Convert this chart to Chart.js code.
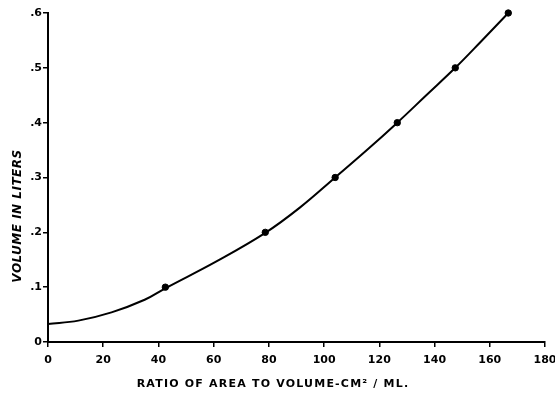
<!DOCTYPE html>
<html>
<head>
<meta charset="utf-8">
<script src="https://cdn.jsdelivr.net/npm/chart.js@4"></script>
<style>
  html, body { margin: 0; padding: 0; background: #fff; }
  #wrap { width: 555px; height: 396px; }
</style>
</head>
<body>
<div id="wrap"><canvas id="chart" width="555" height="396"></canvas></div>
<script>
// measured points
const pointX = [42.5, 78.7, 104, 126.5, 147.5, 166.7];
const pointY = [0.1, 0.2, 0.3, 0.4, 0.5, 0.6];

// fitted curve as drawn in the figure
const curveX = [0, 11, 23, 35, 42.5, 61, 78.7, 91.2, 104, 115.5, 126.5, 137, 147.5, 157, 166.7];
const curveY = [0.033, 0.039, 0.054, 0.077, 0.098, 0.147, 0.199, 0.245, 0.3, 0.35, 0.4, 0.45, 0.5, 0.549, 0.6];

const yTickLabels = ['0', '.1', '.2', '.3', '.4', '.5', '.6'];
const xTitle = 'RATIO OF AREA TO VOLUME-CM\u00B2 / ML.';
const yTitle = 'VOLUME IN LITERS';

const tickFont = { family: 'DejaVu Sans', weight: 'bold', size: 11 };

// titles drawn by hand, they sit off-centre in the original
const titlesPlugin = {
    id: 'titles',
    afterDraw(chart) {
        const c = chart.ctx;
        c.save();
        c.fillStyle = '#000';
        c.font = 'bold 11px "DejaVu Sans"';
        c.letterSpacing = '1.2px';
        c.textAlign = 'center';
        c.textBaseline = 'middle';
        c.fillText(xTitle, 273, 384);
        c.letterSpacing = '0.5px';
        c.translate(18, 216);
        c.rotate(-Math.PI / 2);
        c.font = 'italic bold 12px "DejaVu Sans"';
        c.fillText(yTitle, 0, 0);
        c.restore();
    }
};

new Chart(document.getElementById('chart').getContext('2d'), {
    type: 'scatter',
    data: {
        datasets: [
            {
                type: 'line',
                data: curveX.map((x, i) => ({ x: x, y: curveY[i] })),
                borderColor: '#000',
                borderWidth: 2,
                pointRadius: 0,
                tension: 0.4,
                fill: false,
                clip: false
            },
            {
                data: pointX.map((x, i) => ({ x: x, y: pointY[i] })),
                backgroundColor: '#000',
                borderColor: '#000',
                pointRadius: 3.2,
                clip: false
            }
        ]
    },
    options: {
        responsive: false,
        animation: false,
        layout: { padding: { top: 13, right: 0, left: 0, bottom: 0 } },
        plugins: { legend: { display: false }, tooltip: { enabled: false } },
        scales: {
            x: {
                type: 'linear',
                min: 0, max: 180,
                afterFit(s) { s.height = 54; s.paddingRight = 10; },
                grid: { drawOnChartArea: false, drawTicks: true, tickLength: 5, color: '#000', lineWidth: 1.5 },
                border: { display: true, color: '#000', width: 2 },
                ticks: { stepSize: 20, color: '#000', font: tickFont, padding: 7, maxRotation: 0 }
            },
            y: {
                min: 0, max: 0.6,
                afterFit(s) { s.width = 48; },
                grid: { drawOnChartArea: false, drawTicks: true, tickLength: 5, color: '#000', lineWidth: 1.5 },
                border: { display: true, color: '#000', width: 2 },
                ticks: {
                    stepSize: 0.1, color: '#000', font: tickFont, padding: 1,
                    callback: (v, i) => yTickLabels[i]
                }
            }
        }
    },
    plugins: [titlesPlugin]
});
</script>
</body>
</html>
